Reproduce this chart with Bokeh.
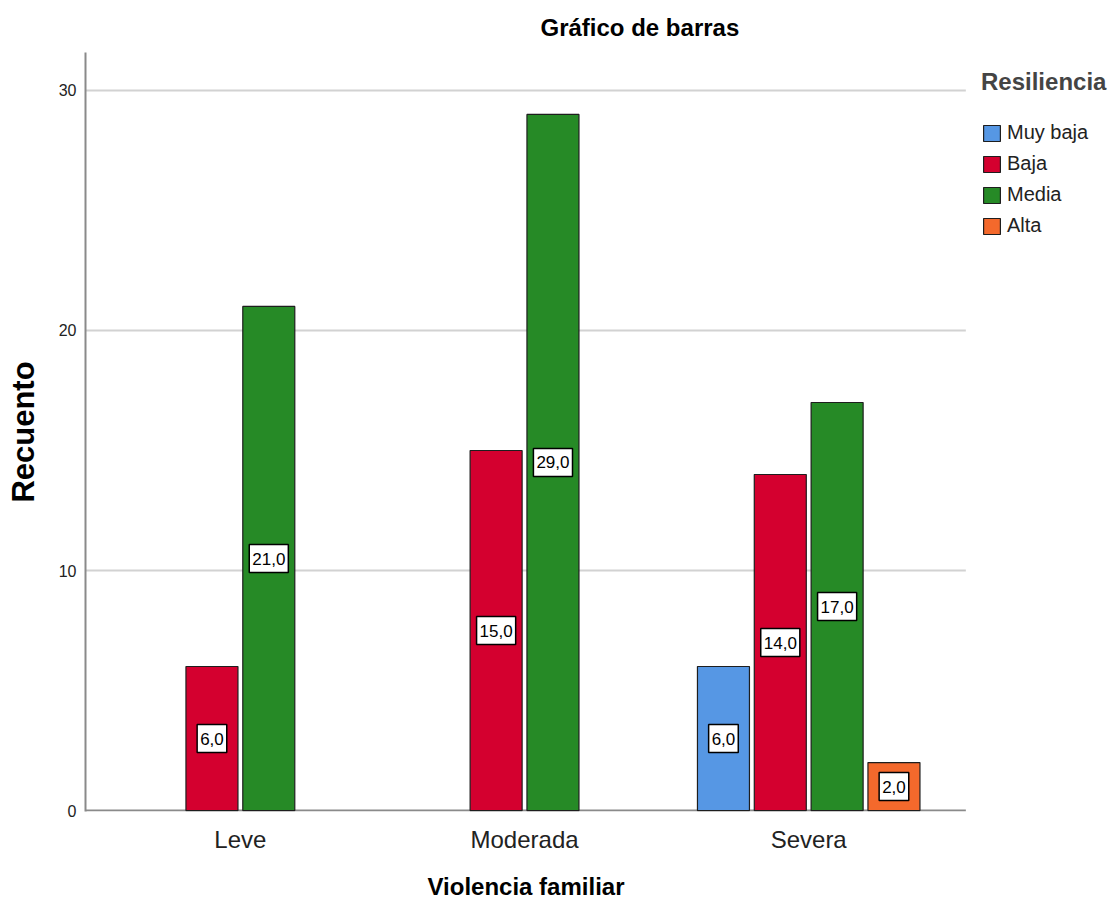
from bokeh.plotting import figure
from bokeh.models import (ColumnDataSource, Range1d, FixedTicker,
                          Legend, LegendItem, Title)
from bokeh.core.properties import value
from bokeh.embed import file_html
from bokeh.resources import INLINE

# Counts of resilience level by family-violence category
categories = ["Leve", "Moderada", "Severa"]
series = ["Muy baja", "Baja", "Media", "Alta"]
muy_baja = [0, 0, 6]
baja = [6, 15, 14]
media = [21, 29, 17]
alta = [0, 0, 2]
y_ticks = [0, 10, 20, 30]

colors = ["#5697e4", "#d4002f", "#268a26", "#f4692c"]
offsets = [-0.3, -0.1, 0.1, 0.3]
bar_width = 0.183

FONT = "Liberation Sans"

# categories sit at 1, 2, 3; the plotting area ends at x_edge and the
# space to its right carries the legend
cat_pos = [i + 1 for i in range(len(categories))]
x_lo, x_edge, x_hi = 0.455, 3.553, 4.055
y_lo, y_hi = -0.04, 31.58

p = figure(
    x_range=Range1d(x_lo, x_hi), y_range=Range1d(y_lo, y_hi),
    width=1108, height=915,
    min_border_left=85, min_border_right=0, min_border_top=52, min_border_bottom=104,
    output_backend="svg", toolbar_location=None, title=None,
)
p.outline_line_color = None
p.background_fill_color = "white"
p.xgrid.visible = False
p.ygrid.visible = False

# horizontal reference lines and the baseline, limited to the plotting area
grid_y = [t for t in y_ticks if t > 0]
p.segment(x0=[x_lo] * len(grid_y), x1=[x_edge] * len(grid_y), y0=grid_y, y1=grid_y,
          line_color="#d2d2d2", line_width=2)
p.segment(x0=[x_lo], x1=[x_edge], y0=[0], y1=[0], line_color="#8a8a8a", line_width=2)

p.yaxis.ticker = FixedTicker(ticks=y_ticks)
p.xaxis.ticker = FixedTicker(ticks=cat_pos)
p.xaxis.major_label_overrides = {pos: c for pos, c in zip(cat_pos, categories)}
p.xaxis.axis_line_color = None
p.yaxis.axis_line_color = "#8a8a8a"
p.yaxis.axis_line_width = 2
for ax in (p.xaxis[0], p.yaxis[0]):
    ax.major_tick_line_color = None
    ax.minor_tick_line_color = None
    ax.major_label_text_font = FONT
    ax.major_label_text_color = "#222222"

p.xaxis.major_tick_out = 0
p.xaxis.minor_tick_out = 0
p.xaxis.major_label_text_font_size = "24px"
p.xaxis.major_label_standoff = 14

p.yaxis.major_label_text_font_size = "16px"
p.yaxis.major_label_standoff = 3
p.yaxis.axis_label = "Recuento"
p.yaxis.axis_label_text_font = FONT
p.yaxis.axis_label_text_font_style = "bold"
p.yaxis.axis_label_text_color = "black"
p.yaxis.axis_label_text_font_size = "31px"
p.yaxis.axis_label_standoff = 15

items = []
for name, vals, color, off in zip(series, [muy_baja, baja, media, alta], colors, offsets):
    xs = [pos + off for pos, v in zip(cat_pos, vals) if v > 0]
    vs = [v for v in vals if v > 0]
    src = ColumnDataSource(dict(
        x=xs, val=vs, half=[v / 2 for v in vs],
        lbl=[f"{v:.1f}".replace(".", ",") for v in vs],
    ))
    r = p.vbar(x="x", top="val", width=bar_width, source=src,
               fill_color=color, line_color="#1e1e1e", line_width=1.2)
    items.append(LegendItem(label=name, renderers=[r]))
    # value tag boxed in the middle of each bar
    p.text(x="x", y="half", text="lbl", source=src,
           text_align="center", text_baseline="middle",
           text_font=value(FONT), text_font_size="17px", text_color="black",
           background_fill_color="white", border_line_color="black", border_line_width=1.5,
           padding=dict(left=3, right=3, top=8, bottom=8))

legend = Legend(
    items=items, location=(896, 572),
    title="Resiliencia", title_text_font=FONT, title_text_font_style="bold",
    title_text_font_size="24px", title_standoff=23,
    label_text_font=FONT, label_text_font_size="20px", label_text_color="#222222",
    glyph_width=21, glyph_height=20, label_standoff=5, label_height=27, spacing=4,
    padding=0, margin=0, border_line_color=None, background_fill_alpha=0,
)
p.add_layout(legend)

p.add_layout(Title(text="Gráfico de barras", align="left", offset=455,
                   text_font=FONT, text_font_style="bold", text_font_size="24px",
                   text_color="black", standoff=23), "above")
p.add_layout(Title(text="Violencia familiar", align="left", offset=342,
                   text_font=FONT, text_font_style="bold", text_font_size="24px",
                   text_color="black", standoff=30), "below")

open("out.html", "w").write(file_html(p, INLINE))
